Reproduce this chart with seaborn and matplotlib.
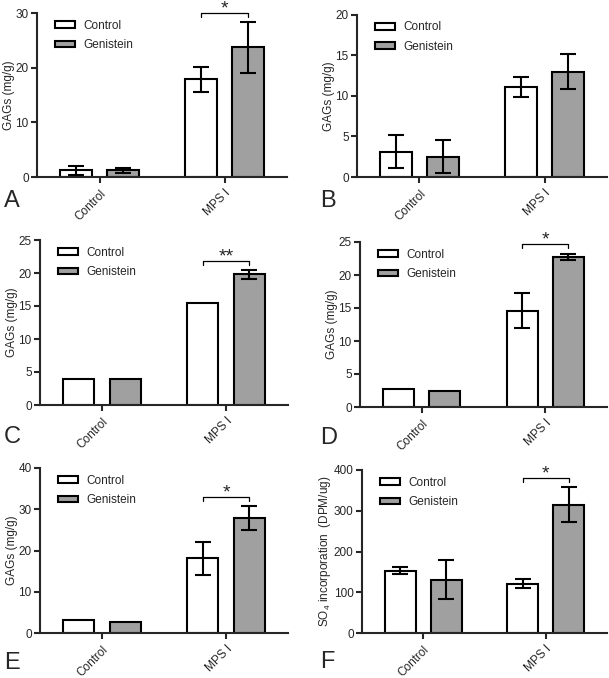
import numpy as np
import pandas as pd
import matplotlib
matplotlib.use("Agg")
import matplotlib.pyplot as plt
import seaborn as sns

sns.set_style("ticks")
plt.rcParams['font.family'] = ['Liberation Sans', 'DejaVu Sans']
plt.rcParams['mathtext.fontset'] = 'custom'
plt.rcParams['mathtext.rm'] = 'Liberation Sans'

groups = ["Control", "MPS I"]
treatments = ["Control", "Genistein"]

# Panel A
a_ctrl = [1.2, 17.9]
a_ctrl_err = [0.8, 2.3]
a_gen = [1.2, 23.7]
a_gen_err = [0.4, 4.7]
# Panel B
b_ctrl = [3.1, 11.1]
b_ctrl_err = [2.05, 1.25]
b_gen = [2.5, 13.0]
b_gen_err = [2.05, 2.1]
# Panel C
c_ctrl = [3.9, 15.5]
c_ctrl_err = [0.0, 0.0]
c_gen = [4.0, 19.8]
c_gen_err = [0.0, 0.65]
# Panel D
d_ctrl = [2.7, 14.6]
d_ctrl_err = [0.0, 2.65]
d_gen = [2.4, 22.7]
d_gen_err = [0.0, 0.5]
# Panel E
e_ctrl = [3.2, 18.1]
e_ctrl_err = [0.0, 4.0]
e_gen = [2.6, 27.9]
e_gen_err = [0.0, 2.9]
# Panel F
f_ctrl = [153, 121]
f_ctrl_err = [8.5, 11]
f_gen = [131, 315]
f_gen_err = [48.5, 43]

panel_letters = ["A", "B", "C", "D", "E", "F"]
ylabels = ["GAGs (mg/g)"] * 5 + ["SO$_4$ incorporation  (DPM/ug)"]
ymaxes = [30, 20, 25, 25, 40, 400]
ysteps = [10, 5, 5, 5, 10, 100]
stars = ["*", None, "**", "*", "*", "*"]
bracket_y = [30, None, 21.8, 24.7, 33.0, 380]

panels = [
    (a_ctrl, a_ctrl_err, a_gen, a_gen_err),
    (b_ctrl, b_ctrl_err, b_gen, b_gen_err),
    (c_ctrl, c_ctrl_err, c_gen, c_gen_err),
    (d_ctrl, d_ctrl_err, d_gen, d_gen_err),
    (e_ctrl, e_ctrl_err, e_gen, e_gen_err),
    (f_ctrl, f_ctrl_err, f_gen, f_gen_err),
]

W, H = 609, 678
fig = plt.figure(figsize=(W / 100, H / 100), dpi=100)

# axes boxes in pixels: left, right, top, bottom
boxes = [
    (37, 287, 13, 177),
    (357, 607, 14.7, 177),
    (40, 288, 240, 405),
    (360, 607, 242, 407),
    (40, 288, 468, 633),
    (362, 607, 470, 633),
]
letter_pos = [(4, 201), (320, 201), (4, 437), (320, 438), (4, 663), (320, 662)]

fs = 8.5
palette = {"Control": "white", "Genistein": "#a0a0a0"}

for i, (ctrl, ctrl_err, gen, gen_err) in enumerate(panels):
    l, r, t, b = boxes[i]
    ax = fig.add_axes([l / W, 1 - b / H, (r - l) / W, (b - t) / H])
    df = pd.DataFrame({
        "group": groups * 2,
        "treatment": [treatments[0]] * 2 + [treatments[1]] * 2,
        "value": list(ctrl) + list(gen),
    })
    sns.barplot(data=df, x="group", y="value", hue="treatment",
                order=groups, hue_order=treatments, palette=palette,
                width=0.75, gap=0.33, edgecolor="black", linewidth=1.5,
                errorbar=None, ax=ax, zorder=2)
    errs = [ctrl_err, gen_err]
    vals = [ctrl, gen]
    centers = []
    for k, cont in enumerate(ax.containers[:2]):
        xs = [p.get_x() + p.get_width() / 2 for p in cont.patches]
        centers.append(xs)
        for x, v, e in zip(xs, vals[k], errs[k]):
            if e > 0:
                ax.errorbar(x, v, yerr=e, fmt="none", ecolor="black",
                            elinewidth=1.5, capsize=6, capthick=1.5, zorder=3)
    handles, labels = ax.get_legend_handles_labels()
    if ax.get_legend() is not None:
        ax.get_legend().remove()
    ax.legend(handles, labels, loc="upper left", bbox_to_anchor=(0.04, 1.01),
              frameon=False, fontsize=fs, handlelength=1.7, handleheight=0.5,
              labelspacing=0.65, handletextpad=0.7, borderpad=0.2)
    ax.set_xlim(-0.5, 1.5)
    ax.set_ylim(0, ymaxes[i])
    ax.set_yticks(np.arange(0, ymaxes[i] + 1e-9, ysteps[i]))
    ax.set_xlabel("")
    ax.set_ylabel(ylabels[i], fontsize=fs, labelpad=0.5)
    ax.tick_params(axis="y", labelsize=fs, width=1.5, length=4, pad=2)
    ax.tick_params(axis="x", labelsize=fs, width=1.5, length=4, pad=3.5)
    ax.set_xticks(range(len(groups)))
    ax.set_xticklabels(groups, rotation=45, ha="right", rotation_mode="anchor")
    sns.despine(ax=ax)
    for s in ["left", "bottom"]:
        ax.spines[s].set_linewidth(1.5)
    if stars[i]:
        x1 = centers[0][1]
        x2 = centers[1][1]
        y = bracket_y[i]
        h = ymaxes[i] * 0.025
        ax.plot([x1, x1, x2, x2], [y - h, y, y, y - h], color="black",
                lw=0.9, clip_on=False, zorder=4)
        ax.annotate(stars[i], xy=((x1 + x2) / 2, y), xytext=(0, -3),
                    textcoords="offset points", ha="center", va="bottom",
                    fontsize=14, annotation_clip=False)
    lx, ly = letter_pos[i]
    fig.text(lx / W, 1 - ly / H, panel_letters[i], fontsize=17,
             ha="left", va="center")

fig.savefig("out.png", dpi=100)
